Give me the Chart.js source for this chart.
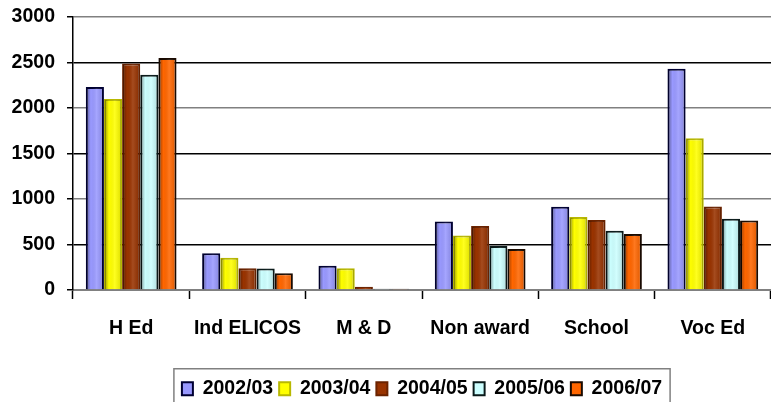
<!DOCTYPE html>
<html>
<head>
<meta charset="utf-8">
<script src="https://cdn.jsdelivr.net/npm/chart.js@4"></script>
<style>
  html, body { margin: 0; padding: 0; background: #fff; }
  #wrap { width: 771px; height: 402px; position: relative; }
</style>
</head>
<body>
<div id="wrap"><canvas id="myChart"></canvas></div>
<script>
const ctx = document.getElementById("myChart");

// datos
const categorias = ["H Ed", "Ind ELICOS", "M & D", "Non award", "School", "Voc Ed"];
const anios = ["2002/03", "2003/04", "2004/05", "2005/06", "2006/07"];
const v2002 = [2230, 403, 267, 754, 914, 2430];
const v2003 = [2100, 355, 238, 600, 801, 1668];
const v2004 = [2490, 238, 35, 702, 768, 918];
const v2005 = [2365, 235, 15, 483, 651, 783];
const v2006 = [2550, 183, 15, 450, 615, 765];
const ticksY = [0, 500, 1000, 1500, 2000, 2500, 3000];

const colores = ["#9999FF", "#FFFF00", "#993300", "#CCFFFF", "#FF6600"];
const bordes = ["#000033", "#B8B800", "#6B2300", "#0A1A1A", "#1A0A00"];
const series = [v2002, v2003, v2004, v2005, v2006];

const fuente = { family: "'Liberation Sans', Arial, sans-serif", size: 19.5, weight: "bold" };

// sombreado tipo excel en cada barra
const sombreado = {
  id: "sombreado",
  afterDatasetsDraw(chart) {
    const c = chart.ctx;
    chart.data.datasets.forEach((ds, i) => {
      chart.getDatasetMeta(i).data.forEach((bar) => {
        const p = bar.getProps(["x", "y", "base", "width"], true);
        const izq = p.x - p.width / 2 + 1;
        const ancho = p.width - 2;
        const alto = p.base - p.y - 1;
        if (alto <= 1) return;
        const g = c.createLinearGradient(izq, 0, izq + ancho, 0);
        g.addColorStop(0, "rgba(0,0,0,0.35)");
        g.addColorStop(0.25, "rgba(0,0,0,0.0)");
        g.addColorStop(0.6, "rgba(255,255,255,0.12)");
        g.addColorStop(1, "rgba(0,0,0,0.12)");
        c.save();
        c.fillStyle = g;
        c.fillRect(izq, p.y + 1, ancho, alto);
        c.restore();
      });
    });
  },
};

// marco de la leyenda
const bordeLeyenda = {
  id: "bordeLeyenda",
  afterDraw(chart) {
    const hb = chart.legend.legendHitBoxes;
    if (!hb || !hb.length) return;
    const izq = Math.min(...hb.map((h) => h.left)) - 8;
    const der = Math.max(...hb.map((h) => h.left + h.width)) + 8;
    const arriba = hb[0].top + hb[0].height / 2 - 20;
    const c = chart.ctx;
    c.save();
    c.strokeStyle = "#808080";
    c.lineWidth = 1.5;
    c.strokeRect(izq, arriba, der - izq, chart.height - arriba + 10);
    c.restore();
  },
};

new Chart(ctx, {
  type: "bar",
  data: {
    labels: categorias,
    datasets: anios.map((a, i) => ({
      label: a,
      data: series[i],
      backgroundColor: colores[i],
      borderColor: bordes[i],
      borderWidth: 2,
      borderSkipped: "bottom",
    })),
  },
  options: {
    responsive: true,
    maintainAspectRatio: false,
    animation: false,
    devicePixelRatio: 1,
    layout: { padding: { top: 17, right: 0, left: 0, bottom: -6.5 } },
    datasets: {
      bar: { barPercentage: 1, categoryPercentage: 0.78 },
    },
    scales: {
      x: {
        afterFit: (s) => { s.height = 83; s.paddingLeft = 0; s.paddingRight = 0; },
        grid: {
          drawOnChartArea: false,
          drawTicks: true,
          tickLength: 9,
          tickColor: "#000",
          tickWidth: 1.5,
          offset: true,
        },
        border: { color: "#808080", width: 2 },
        ticks: { color: "#000", font: fuente, padding: 18, maxRotation: 0, autoSkip: false },
      },
      y: {
        min: 0,
        max: 3000,
        afterFit: (s) => { s.width = 73; s.paddingTop = 0; s.paddingBottom = 0; },
        afterBuildTicks: (s) => { s.ticks = ticksY.map((v) => ({ value: v })); },
        grid: {
          color: (c) => (c.tick && c.tick.value % 1000 === 0 ? "#808080" : "#000"),
          lineWidth: 1.5,
          tickLength: 6,
          tickColor: "#000",
        },
        border: { color: "#000", width: 1.5 },
        ticks: { color: "#000", font: fuente, padding: 12, callback: (v) => String(v) },
      },
    },
    plugins: {
      tooltip: { enabled: false },
      legend: {
        position: "bottom",
        fullSize: false,
        labels: {
          color: "#000",
          font: fuente,
          boxWidth: 11,
          boxHeight: 13,
          padding: 6,
        },
      },
    },
  },
  plugins: [sombreado, bordeLeyenda],
});
</script>
</body>
</html>
